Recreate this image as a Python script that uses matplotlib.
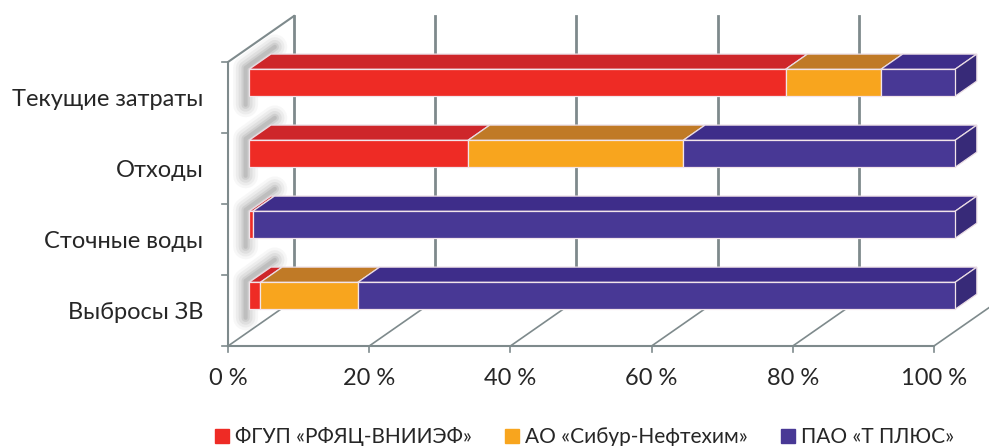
import matplotlib.pyplot as plt
from matplotlib.patches import Polygon
from matplotlib.lines import Line2D

# данные (доли, %)
categories = ["Выбросы ЗВ", "Сточные воды", "Отходы", "Текущие затраты"]
series = ["ФГУП «РФЯЦ-ВНИИЭФ»", "АО «Сибур-Нефтехим»", "ПАО «Т ПЛЮС»"]
rfyac = [1.6, 0.5, 31.0, 76.0]
sibur = [13.8, 0.0, 30.5, 13.5]
tplus = [84.6, 99.5, 38.5, 10.5]
ticks = [0, 20, 40, 60, 80, 100]
tick_labels = ["0 %", "20 %", "40 %", "60 %", "80 %", "100 %"]

front_colors = ["#EE2B25", "#F8A51E", "#483895"]
top_colors = ["#CE262A", "#C07A26", "#3E2D8A"]
side_color = "#372A78"
grid_color = "#7E8A8C"
text_color = "#262626"

plt.rcParams["font.family"] = ["Lato", "DejaVu Sans"]
plt.rcParams["font.size"] = 17

fig = plt.figure(figsize=(9.89, 4.46), dpi=100)
ax = fig.add_axes([0, 0, 1, 1])
ax.set_xlim(-32.3, 107.8)
ax.set_ylim(-1.408, 4.873)
ax.axis("off")

# косая проекция: смещение по глубине
DX, DY = 9.35, 0.648
def proj(x, y, d):
    return (x + DX * d, y + DY * d)

n = len(categories)

# левая стенка
ax.plot(*zip(proj(0, 0, 0), proj(0, n, 0), proj(0, n, 1)), color=grid_color, lw=1.5, zorder=1)
for i in range(n + 1):
    ax.plot([-0.9, 0], [i, i], color=grid_color, lw=1.2, zorder=1)

# сетка: задняя стенка и пол
for t in ticks:
    ax.plot(*zip(proj(t, 0, 1), proj(t, n, 1)), color=grid_color, lw=2, zorder=1)
    ax.plot(*zip(proj(t, 0, 0), proj(t, 0, 1)), color=grid_color, lw=1.2, zorder=1)
    ax.plot([t, t], [0, -0.09], color=grid_color, lw=1.2, zorder=1)
ax.plot([0, 100], [0, 0], color=grid_color, lw=1.5, zorder=1)

# объёмные столбцы
f0, f1, h = 0.32, 0.65, 0.19
for i in range(n):
    yc = i + 0.5
    y0, y1 = yc - h, yc + h
    # размытая тень на левой стенке
    shadow = [proj(-0.5, y0 - 0.12, f0), proj(-0.5, y1 + 0.02, f0), proj(-0.2, y1 + 0.05, f1 + 0.08)]
    for lw, a in [(18, 0.04), (14, 0.06), (10, 0.08), (6, 0.1), (3, 0.12)]:
        ax.plot(*zip(*shadow), color="#4a4a4a", lw=lw, alpha=a,
                solid_capstyle="round", solid_joinstyle="round", zorder=2)
    left = 0.0
    vals = [rfyac[i], sibur[i], tplus[i]]
    for k, v in enumerate(vals):
        if v <= 0:
            continue
        right = left + v
        front = [proj(left, y0, f0), proj(right, y0, f0), proj(right, y1, f0), proj(left, y1, f0)]
        top = [proj(left, y1, f0), proj(right, y1, f0), proj(right, y1, f1), proj(left, y1, f1)]
        ax.add_patch(Polygon(top, closed=True, fc=top_colors[k], ec="#EADCE4", lw=0.9, zorder=3))
        ax.add_patch(Polygon(front, closed=True, fc=front_colors[k], ec="#F2E4EA", lw=0.9, zorder=4))
        left = right
    side = [proj(left, y0, f0), proj(left, y1, f0), proj(left, y1, f1), proj(left, y0, f1)]
    ax.add_patch(Polygon(side, closed=True, fc=side_color, ec="#EADCE4", lw=0.9, zorder=3))

# подписи
for i, c in enumerate(categories):
    ax.text(-3.5, i + 0.47, c, ha="right", va="center", color=text_color, fontsize=17)
for t, lab in zip(ticks, tick_labels):
    ax.text(t, -0.46, lab, ha="center", va="center", color=text_color, fontsize=17)

handles = [Line2D([], [], ls="", marker="s", ms=10, color=c) for c in front_colors]
fig.legend(handles, series, loc="center", bbox_to_anchor=(585 / 989, 1 - 437 / 446),
           ncol=3, frameon=False, handlelength=0.6, handletextpad=0.35,
           columnspacing=1.6, fontsize=15, labelcolor=text_color)

fig.savefig("out.png", dpi=100)
